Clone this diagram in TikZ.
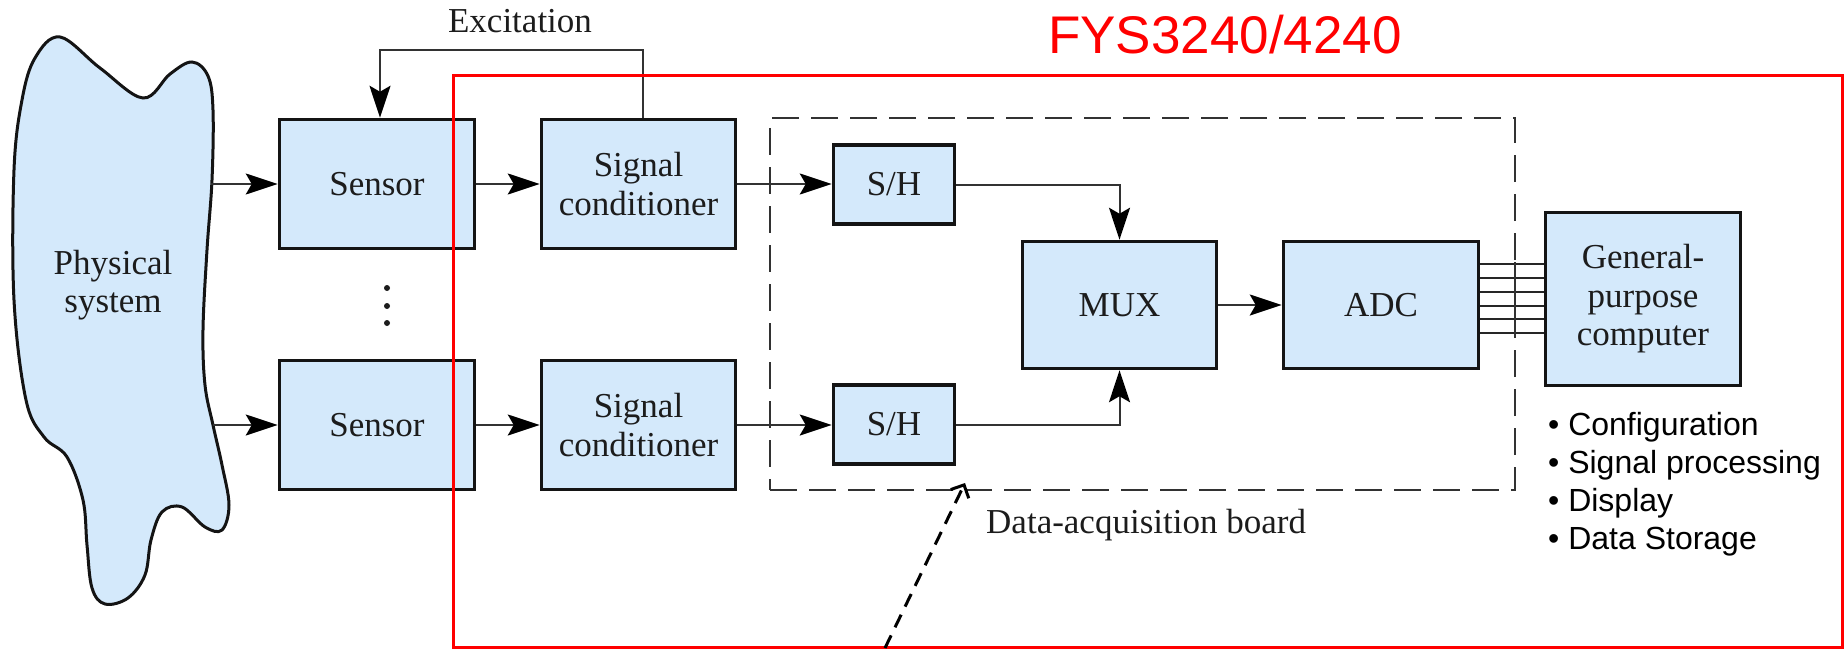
\documentclass[tikz,border=0pt]{standalone}
\usepackage{fontspec}
\setmainfont{Liberation Serif}
\newfontfamily\arialfont{Liberation Sans}
\usetikzlibrary{arrows.meta}
\definecolor{boxblue}{RGB}{212,233,251}
\definecolor{ink}{RGB}{28,28,28}
\definecolor{edge}{RGB}{20,20,20}
\definecolor{wirecol}{RGB}{50,50,50}
\newcommand\serifsz{\fontsize{35}{38.5}\selectfont}
\newcommand\bulletsz{\arialfont\fontsize{32}{38}\selectfont}
\begin{document}
\begin{tikzpicture}[x=1pt,y=-1pt,
  blk/.style={draw=edge, line width=3.5pt, fill=boxblue, inner sep=0pt,
              align=center, text=ink, font=\serifsz},
  wire/.style={draw=wirecol, line width=2pt},
  arr/.style={wire, -{Stealth[length=32pt,width=21pt,inset=6pt,black]}},
  lbl/.style={inner sep=0pt, text=ink, font=\serifsz},
  bullet/.style={anchor=base west, inner sep=0pt, text=black, font=\bulletsz},
]
\useasboundingbox (0,0) rectangle (1844,650);

% physical system blob
\draw[draw=edge, line width=3pt, fill=boxblue]
  plot[smooth cycle, tension=0.6] coordinates {
    (60,37) (100,68) (143,98) (170,74) (192,62) (208,76) (213,110)
    (212,180) (207,250) (203,330) (205,385) (213,425) (222,465)
    (229,505) (222,530) (205,527) (182,507) (162,512) (151,540)
    (145,575) (128,598) (105,604) (92,588) (87,545) (83,500)
    (67,457) (44,437) (26,400) (14,300) (14,170) (22,100) (35,58)};
\node[lbl, align=center] (phys) at (113,285) {Physical\\system};
\coordinate (bA) at (211,184);
\coordinate (bB) at (213,425);

% sensor chains
\node[blk, minimum width=195pt, minimum height=129pt] (sensA) at (377,184) {Sensor};
\node[blk, minimum width=195pt, minimum height=129pt] (sensB) at (377,425) {Sensor};
\node[blk, minimum width=194pt, minimum height=129pt] (condA) at (638.5,184) {Signal\\conditioner};
\node[blk, minimum width=194pt, minimum height=129pt] (condB) at (638.5,425) {Signal\\conditioner};
\fill[ink] (387,288) circle (3pt) (387,306) circle (3pt) (387,323) circle (3pt);

% data-acquisition board
\node[draw=wirecol, line width=2pt, dash pattern=on 27pt off 12pt,
      minimum width=745pt, minimum height=372pt, inner sep=0pt] (board) at (1142.5,304) {};
\node[blk, minimum width=121pt, minimum height=79pt] (shA) at (894,184.5) {S/H};
\node[blk, minimum width=121pt, minimum height=79pt] (shB) at (894,424.5) {S/H};
\node[blk, minimum width=194pt, minimum height=127pt] (mux) at (1119.5,305) {MUX};
\node[blk, minimum width=195pt, minimum height=127pt] (adc) at (1381,305) {ADC};
\node[blk, minimum width=195pt, minimum height=173pt] (comp) at (1643,299) {General-\\purpose\\computer};
\node[lbl, anchor=base west] (boardlbl) at (986,533) {Data-acquisition board};

% excitation loop
\coordinate (exR) at (643,50);
\coordinate (exL) at (380,50);
\draw[arr] (condA.north -| exR) -- (exR) -- (exL) -- (sensA.north -| exL);
\node[lbl, anchor=base] (exlbl) at (520,33) {Excitation};

% signal flow
\draw[arr] (bA) -- (sensA.west);
\draw[arr] (bB) -- (sensB.west);
\draw[arr] (sensA) -- (condA);
\draw[arr] (sensB) -- (condB);
\draw[arr] (condA.east) -- (shA.west |- condA.east);
\draw[arr] (condB.east) -- (shB.west |- condB.east);
\draw[arr] (shA.east) -| (mux.north);
\draw[arr] (shB.east) -| (mux.south);
\draw[arr] (mux) -- (adc);

% parallel output bus
\foreach \d in {41,27,13,-1,-14,-28}
  \draw[draw=black!85, line width=2pt] ([yshift=\d pt]adc.east) -- ([yshift=\d pt]adc.east -| comp.west);
\draw[draw=wirecol, line width=1.6pt] (1515,262) -- (1515,335);

% course frame
\node[draw=red, line width=3pt, minimum width=1389pt, minimum height=571pt, inner sep=0pt] (frame) at (1147.5,361.5) {};
\node[anchor=base west, inner sep=0pt, text=red, font=\arialfont\fontsize{53}{60}\selectfont] (course) at (1048,54) {FYS3240/4240};
\coordinate (tail) at (885,648);
\coordinate (tipd) at (965,483);
\draw[black, line width=3pt, dash pattern=on 14pt off 9pt,
      -{Straight Barb[length=10pt,width=20pt]}] (tail) -- (tipd);

% computer tasks
\node[bullet] (t1) at (1548,435) {• Configuration};
\node[bullet] (t2) at (1548,473) {• Signal processing};
\node[bullet] (t3) at (1548,511) {• Display};
\node[bullet] (t4) at (1548,549) {• Data Storage};
\end{tikzpicture}
\end{document}
